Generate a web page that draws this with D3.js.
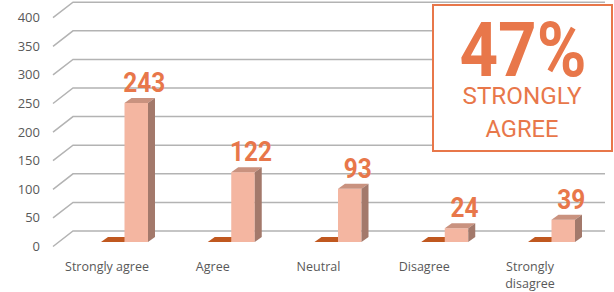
<!DOCTYPE html>
<html>
<head>
<meta charset="utf-8">
<script src="https://cdn.jsdelivr.net/npm/d3@7"></script>
<style>
  body { margin: 0; background: #fff; }
  svg { display: block; }
</style>
</head>
<body>
<script>
// chart data
const categories = ["Strongly agree", "Agree", "Neutral", "Disagree", "Strongly disagree"];
const responses = [243, 122, 93, 24, 39];
const otherSeries = [0, 0, 0, 0, 0];
const yTicks = [0, 50, 100, 150, 200, 250, 300, 350, 400];
const calloutLines = ["47%", "STRONGLY", "AGREE"];

const W = 614, H = 292;
const ORANGE = "#E8774A";

let svg = d3.select("body").append("svg")
    .attr("width", W)
    .attr("height", H);

// height of a value (same scale for wall and bars)
const yh = d3.scaleLinear().domain([0, 400]).range([0, 228.8]);

// floor geometry
const frontZero = 246.5, backZero = 231;
const frontX = 53, backX = 73, rightX = 605;

// label positions and bar positions (perspective shifts them a little)
const xLabel = d3.scalePoint().domain(categories).range([107, 530]);
const xBar = d3.scalePoint().domain(categories).range([101, 528]);
const barW = 23.5, depthX = 7, depthY = 5, barZero = 242;

// gridlines: diagonal on the side wall + horizontal on the back wall
let grid = svg.append("g");
yTicks.forEach(t => {
  grid.append("path")
      .attr("d", `M${frontX},${frontZero - yh(t)}L${backX},${backZero - yh(t)}L${rightX},${backZero - yh(t)}`)
      .attr("fill", "none")
      .attr("stroke", "#B3B3B3")
      .attr("stroke-width", 1.5);
});

// y axis labels
svg.append("g").selectAll("text")
    .data(yTicks)
    .join("text")
    .attr("x", 40)
    .attr("y", d => frontZero - yh(d) + 4.5)
    .attr("text-anchor", "end")
    .attr("font-family", "Open Sans")
    .attr("font-size", 13)
    .attr("fill", "#595959")
    .text(d => d);

// category labels
let cats = svg.append("g");
categories.forEach(c => {
  let words = c === "Strongly disagree" ? ["Strongly", "disagree"] : [c];
  words.forEach((w, i) => {
    cats.append("text")
        .attr("x", xLabel(c))
        .attr("y", 271 + i * 17)
        .attr("text-anchor", "middle")
        .attr("font-family", "Open Sans")
        .attr("font-size", 12.5)
        .attr("fill", "#595959")
        .text(w);
  });
});

// bars
let bars = svg.append("g");
categories.forEach((c, i) => {
  // zero-height dark series: only the top face shows
  let l = xBar(c), h0 = yh(otherSeries[i]);
  bars.append("path")
      .attr("d", `M${l},${barZero - h0}L${l + depthX},${barZero - depthY - h0}L${l + barW + depthX},${barZero - depthY - h0}L${l + barW},${barZero - h0}Z`)
      .attr("fill", "#C0581F");

  // light series
  let x0 = l + barW, h = yh(responses[i]), top = barZero - h;
  bars.append("rect")
      .attr("x", x0).attr("y", top)
      .attr("width", barW).attr("height", h)
      .attr("fill", "#F4B6A1");
  bars.append("path")
      .attr("d", `M${x0},${top}L${x0 + depthX},${top - depthY}L${x0 + barW + depthX},${top - depthY}L${x0 + barW},${top}Z`)
      .attr("fill", "#C9927F");
  bars.append("path")
      .attr("d", `M${x0 + barW},${top}L${x0 + barW + depthX},${top - depthY}L${x0 + barW + depthX},${barZero - depthY}L${x0 + barW},${barZero}Z`)
      .attr("fill", "#A3796B");

  // data label
  let s = String(responses[i]);
  bars.append("text")
      .attr("x", x0 + barW / 2 + 8)
      .attr("y", top - 11)
      .attr("text-anchor", "middle")
      .attr("font-family", "Roboto")
      .attr("font-weight", 700)
      .attr("font-size", 28)
      .attr("fill", ORANGE)
      .attr("textLength", s.length === 3 ? 42 : 28)
      .attr("lengthAdjust", "spacingAndGlyphs")
      .text(s);
});

// callout box
let box = svg.append("g");
box.append("rect")
    .attr("x", 433).attr("y", 5)
    .attr("width", 179).attr("height", 146)
    .attr("fill", "#fff")
    .attr("stroke", ORANGE)
    .attr("stroke-width", 2);

box.append("text")
    .attr("x", 523).attr("y", 76)
    .attr("text-anchor", "middle")
    .attr("font-family", "Roboto").attr("font-weight", 700)
    .attr("font-size", 76)
    .attr("fill", ORANGE)
    .attr("textLength", 127).attr("lengthAdjust", "spacingAndGlyphs")
    .text(calloutLines[0]);

box.append("text")
    .attr("x", 522).attr("y", 104)
    .attr("text-anchor", "middle")
    .attr("font-family", "Roboto")
    .attr("font-size", 24)
    .attr("fill", ORANGE)
    .attr("textLength", 119).attr("lengthAdjust", "spacingAndGlyphs")
    .text(calloutLines[1]);

box.append("text")
    .attr("x", 522).attr("y", 137)
    .attr("text-anchor", "middle")
    .attr("font-family", "Roboto")
    .attr("font-size", 24)
    .attr("fill", ORANGE)
    .attr("textLength", 73).attr("lengthAdjust", "spacingAndGlyphs")
    .text(calloutLines[2]);
</script>
</body>
</html>
